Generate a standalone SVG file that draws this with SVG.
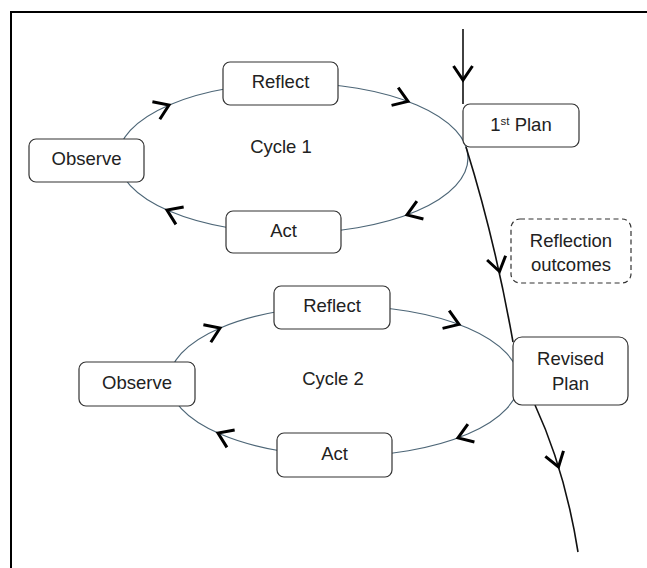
<svg xmlns="http://www.w3.org/2000/svg" xmlns:xlink="http://www.w3.org/1999/xlink" width="647" height="568" viewBox="0 0 647 568">
<style>
.node rect{fill:#fff;stroke:#333;stroke-width:1.2}
.dash rect{fill:#fff;stroke:#333;stroke-width:1.2;stroke-dasharray:5,3.5}
text{font-family:"Liberation Sans",Arial,sans-serif;font-size:18.5px;fill:#222;text-anchor:middle}
.cyc{fill:none;stroke:#4d6677;stroke-width:1.2}
.main{fill:none;stroke:#111;stroke-width:1.6}
.chev{fill:none;stroke:#000;stroke-width:3;stroke-linejoin:miter;stroke-linecap:butt}
</style>
<defs>
<path id="chev" class="chev" d="M-14,-9.5 L0,0 L-14,9.5"/>
</defs>
<rect x="11" y="12" width="660" height="580" fill="#fff" stroke="#000" stroke-width="2"/>
<g id="connectors">
<ellipse class="cyc" cx="293" cy="158" rx="175" ry="75"/>
<ellipse class="cyc" cx="344" cy="381" rx="175" ry="75"/>
<path class="main" d="M463,29 L463,104"/>
<path class="main" d="M466,147 Q495,240 513,342"/>
<path class="main" d="M535,405 Q565,470 578,552"/>
<use xlink:href="#chev" transform="translate(169,105) rotate(-23)"/>
<use xlink:href="#chev" transform="translate(408,101.4) rotate(20.5)"/>
<use xlink:href="#chev" transform="translate(407,214.9) rotate(159.8)"/>
<use xlink:href="#chev" transform="translate(167,210) rotate(204)"/>
<use xlink:href="#chev" transform="translate(220,328) rotate(-23)"/>
<use xlink:href="#chev" transform="translate(459,324.4) rotate(20.5)"/>
<use xlink:href="#chev" transform="translate(458,437.9) rotate(159.8)"/>
<use xlink:href="#chev" transform="translate(218,433) rotate(204)"/>
<use xlink:href="#chev" transform="translate(463,80) rotate(90)"/>
<use xlink:href="#chev" transform="translate(499.5,271.5) rotate(77)"/>
<use xlink:href="#chev" transform="translate(558.5,467) rotate(73)"/>
</g>
<g id="cycle1-label"><text x="281" y="153">Cycle 1</text></g>
<g id="cycle2-label"><text x="333" y="385">Cycle 2</text></g>
<g id="reflect1" class="node"><rect x="223" y="62" width="115" height="43" rx="7"/><text x="280.5" y="88">Reflect</text></g>
<g id="observe1" class="node"><rect x="29" y="139" width="115" height="43" rx="7"/><text x="86.5" y="165">Observe</text></g>
<g id="act1" class="node"><rect x="226" y="211" width="115" height="42" rx="7"/><text x="283.5" y="236.5">Act</text></g>
<g id="plan1" class="node"><rect x="463" y="104" width="116" height="43" rx="7"/><text x="521" y="131">1<tspan font-size="11.5" dy="-6.5">st</tspan><tspan dy="6.5"> Plan</tspan></text></g>
<g id="reflection-outcomes" class="dash"><rect x="511" y="219" width="120" height="64" rx="9"/><text x="571" y="247">Reflection</text><text x="571" y="271">outcomes</text></g>
<g id="reflect2" class="node"><rect x="274" y="286" width="116" height="43" rx="7"/><text x="332" y="312">Reflect</text></g>
<g id="observe2" class="node"><rect x="79" y="362" width="116" height="44" rx="7"/><text x="137" y="388.5">Observe</text></g>
<g id="act2" class="node"><rect x="277" y="433" width="115" height="44" rx="7"/><text x="334.5" y="459.5">Act</text></g>
<g id="revised-plan" class="node"><rect x="513" y="337" width="115" height="68" rx="9"/><text x="570.5" y="365">Revised</text><text x="570.5" y="390">Plan</text></g>
</svg>
